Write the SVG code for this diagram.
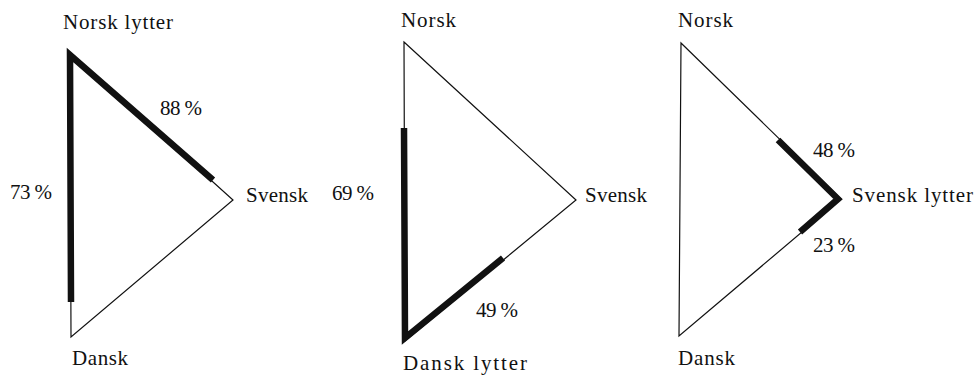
<svg xmlns="http://www.w3.org/2000/svg" width="974" height="375" viewBox="0 0 974 375">
<style>
.thin{fill:none;stroke:#111;stroke-width:1.2;stroke-linejoin:miter}
.thick{fill:none;stroke:#111;stroke-width:6.5;stroke-linejoin:miter;stroke-miterlimit:10}
text{font-family:"Liberation Serif","Times New Roman",serif;font-size:21px;fill:#111}
</style>
<rect width="974" height="375" fill="#fff"/>
<g id="connectors">
<polygon class="thin" points="70,53 233,200 71,337"/>
<polyline class="thick" points="71,302 70,55 213,180"/>
<polygon class="thin" points="404,42 576,200 405,341"/>
<polyline class="thick" points="404,128 405,338 503,258"/>
<polygon class="thin" points="681,43 841,199 679,336"/>
<polyline class="thick" points="778,140 838,199 800,232"/>
</g>
<g id="diagram1">
<text x="63" y="29" textLength="110">Norsk lytter</text>
<text x="160" y="115" textLength="42">88 %</text>
<text x="10" y="199" textLength="42">73 %</text>
<text x="246" y="202" textLength="62">Svensk</text>
<text x="72" y="365" textLength="56">Dansk</text>
</g>
<g id="diagram2">
<text x="401" y="27" textLength="55">Norsk</text>
<text x="332" y="200" textLength="42">69 %</text>
<text x="585" y="202" textLength="62">Svensk</text>
<text x="476" y="317" textLength="42">49 %</text>
<text x="403" y="370" textLength="124">Dansk lytter</text>
</g>
<g id="diagram3">
<text x="678" y="27" textLength="55">Norsk</text>
<text x="813" y="157" textLength="42">48 %</text>
<text x="852" y="202" textLength="121">Svensk lytter</text>
<text x="813" y="252" textLength="42">23 %</text>
<text x="678" y="365" textLength="57">Dansk</text>
</g>
</svg>
